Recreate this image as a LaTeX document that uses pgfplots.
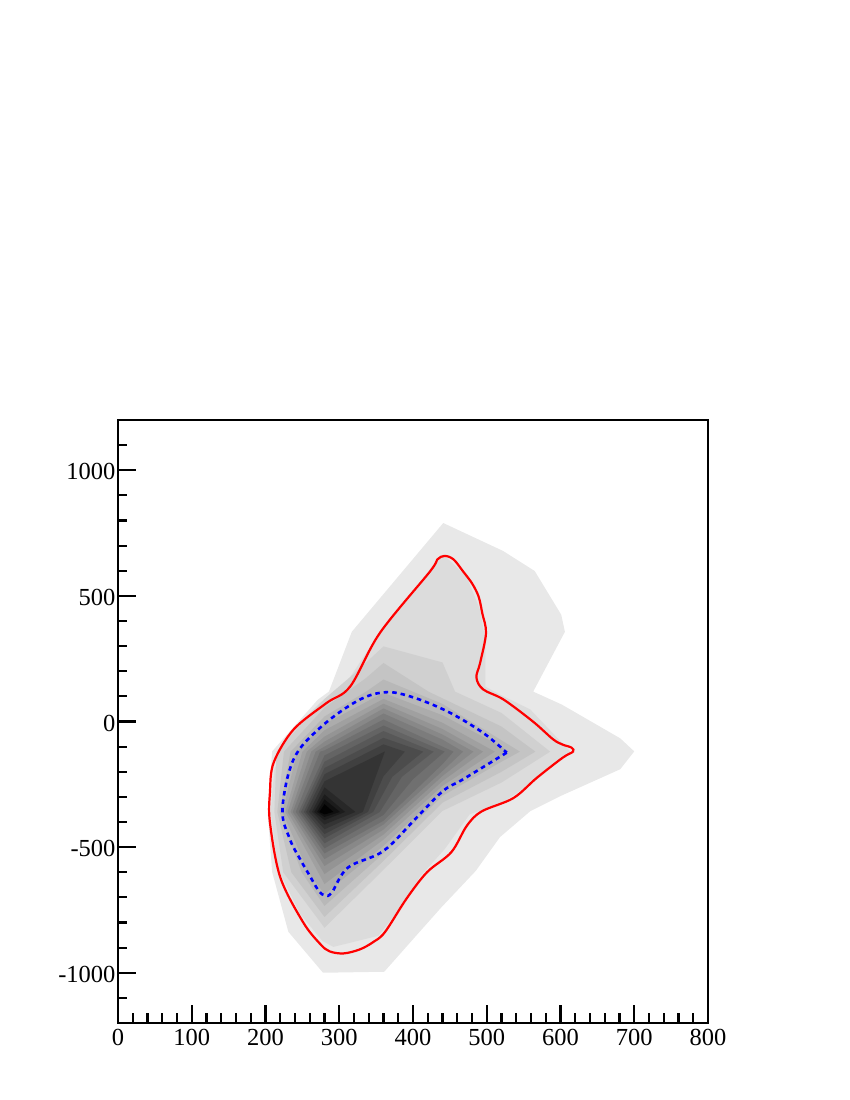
\documentclass[border=0pt]{standalone}
\usepackage{pgfplots}
\pgfplotsset{compat=1.18}
\usepackage{fontspec}
\setmainfont{Liberation Serif}

% grey contour bands, outermost first
\definecolor{g0}{RGB}{232,232,232}
\definecolor{g1}{RGB}{220,220,220}
\definecolor{g2}{RGB}{208,208,208}
\definecolor{g3}{RGB}{196,196,196}
\definecolor{g4}{RGB}{184,184,184}
\definecolor{g5}{RGB}{172,172,172}
\definecolor{g6}{RGB}{160,160,160}
\definecolor{g7}{RGB}{148,148,148}
\definecolor{g8}{RGB}{136,136,136}
\definecolor{g9}{RGB}{124,124,124}
\definecolor{g10}{RGB}{112,112,112}
\definecolor{g11}{RGB}{100,100,100}
\definecolor{g12}{RGB}{88,88,88}
\definecolor{g13}{RGB}{76,76,76}
\definecolor{g14}{RGB}{64,64,64}
\definecolor{g15}{RGB}{52,52,52}
\definecolor{g16}{RGB}{40,40,40}
\definecolor{g17}{RGB}{28,28,28}
\definecolor{g18}{RGB}{16,16,16}
\definecolor{g19}{RGB}{2,2,2}

\begin{document}
\begin{tikzpicture}
\useasboundingbox (-118pt,-77pt) rectangle (732pt,1023pt);
\begin{axis}[
    scale only axis,
    width=590pt,
    height=603pt,
    xmin=0, xmax=800,
    ymin=-1200, ymax=1200,
    xtick={0,100,...,800},
    ytick={-1000,-500,0,500,1000},
    minor xtick={0,20,...,800},
    minor ytick={-1100,-1000,...,1100},
    tick pos=left,
    tick align=inside,
    major tick length=18pt,
    minor tick length=9.5pt,
    axis line style={line width=2.4pt},
    every tick/.style={black,line width=2.2pt},
    every minor tick/.style={black,line width=2.2pt},
    tick label style={font=\fontsize{24.5}{28}\selectfont},
    /pgf/number format/assume math mode=true,
    /pgf/number format/1000 sep={},
    xticklabel style={yshift=-3pt},
    yticklabel style={yshift=-1.5pt,xshift=1pt},
    axis on top,
]
\addplot[fill=g0,draw=none] coordinates {
 (441,790) (522,679) (565,599) (601,425) (606,357) (563,119) (602,67) (681,-67)
 (700,-119) (681,-190) (599,-298) (559,-357) (518,-460) (485,-595) (439,-738)
 (409,-837) (361,-996) (278,-1000) (231,-837) (209,-599) (203,-361) (209,-119)
 (271,87) (286,119) (317,357)} -- cycle;
\addplot[fill=g1,draw=none] coordinates {
 (441,665) (473,575) (491,444) (498,325) (498,139) (518,107) (559,48) (613,-119)
 (565,-238) (518,-329) (477,-369) (443,-508) (409,-619) (382,-746) (353,-853)
 (292,-897) (277,-873) (247,-766) (217,-587) (207,-361) (212,-190) (233,-44)
 (274,75) (308,147) (353,345)} -- cycle;
\addplot[fill=g2,draw=none] coordinates {
 (360,299) (440,235) (457,119) (520,34) (586,-120) (520,-243) (440,-356) (360,-590)
 (280,-821) (224,-600) (212,-360) (215,-120) (280,90) (320,190)} -- cycle;
\addplot[fill=g3,draw=none] coordinates {
 (360,233) (421,119) (520,-20) (566,-120) (520,-200) (440,-323) (360,-555)
 (280,-778) (235,-600) (216,-360) (225,-120) (280,55) (335,170)} -- cycle;
\addplot[fill=g4,draw=none] coordinates {
 (360,167) (440,70) (520,-75) (545,-120) (520,-160) (440,-296) (360,-525)
 (280,-734) (249,-600) (219,-360) (234,-120) (280,20) (337,120)} -- cycle;
\addplot[fill=g5,draw=none] coordinates {
 (360,114) (440,25) (520,-100) (529,-120) (440,-276) (360,-495)
 (280,-687) (258,-600) (223,-360) (243,-120) (280,-10)} -- cycle;
\addplot[fill=g6,draw=none] coordinates {
 (360,90) (440,-5) (511,-120) (440,-256) (360,-470)
 (280,-647) (227,-360) (250,-120) (280,-35)} -- cycle;
\addplot[fill=g7,draw=none] coordinates {
 (360,71) (440,-30) (495,-120) (440,-237) (360,-450)
 (280,-607) (230,-360) (256,-120) (280,-60)} -- cycle;
\addplot[fill=g8,draw=none] coordinates {
 (360,52) (440,-52) (482,-120) (440,-217) (360,-430)
 (280,-575) (234,-360) (262,-120) (280,-80)} -- cycle;
\addplot[fill=g9,draw=none] coordinates {
 (360,32) (440,-72) (468,-120) (440,-197) (360,-410)
 (280,-548) (237,-360) (268,-120) (280,-100)} -- cycle;
\addplot[fill=g10,draw=none] coordinates {
 (360,8) (440,-100) (455,-120) (440,-170) (360,-395)
 (280,-525) (241,-360) (274,-120) (280,-115)} -- cycle;
\addplot[fill=g11,draw=none] coordinates {
 (360,-16) (443,-120) (400,-230) (360,-372)
 (280,-505) (245,-360) (280,-135)} -- cycle;
\addplot[fill=g12,draw=none] coordinates {
 (360,-38) (428,-120) (385,-220) (355,-360)
 (280,-485) (248,-360) (280,-160)} -- cycle;
\addplot[fill=g13,draw=none] coordinates {
 (360,-65) (414,-120) (372,-220) (346,-360)
 (280,-465) (252,-360) (280,-185)} -- cycle;
\addplot[fill=g14,draw=none] coordinates {
 (360,-91) (389,-120) (360,-218) (339,-360)
 (280,-448) (255,-360) (280,-210)} -- cycle;
\addplot[fill=g15,draw=none] coordinates {
 (362,-119) (332,-360) (280,-429) (259,-360) (280,-238)} -- cycle;
\addplot[fill=g16,draw=none] coordinates {
 (322,-360) (280,-410) (263,-360) (280,-262)} -- cycle;
\addplot[fill=g17,draw=none] coordinates {
 (308,-360) (280,-393) (266,-360) (280,-290)} -- cycle;
\addplot[fill=g18,draw=none] coordinates {
 (301,-360) (280,-380) (270,-360) (280,-310)} -- cycle;
\addplot[fill=g19,draw=none] coordinates {
 (292,-360) (280,-370) (273,-360) (280,-329)} -- cycle;

% red contour
\addplot[red,line width=2.2pt,smooth cycle,tension=0.55] coordinates {
 (443,659) (455,645) (468,597) (480,550) (489,497) (494,430) (499,352)
 (491,233) (486,175) (495,128) (523,87) (563,-1) (590,-71)
 (603,-92) (615,-104) (617,-120) (603,-144) (568,-224)
 (536,-305) (493,-358) (473,-415) (452,-520) (419,-600) (391,-706) (362,-838)
 (346,-878) (328,-907) (306,-923) (287,-915) (274,-885) (251,-799)
 (220,-620) (206,-402) (206,-283) (211,-164) (238,-32)
 (283,74) (315,140) (355,352)
 (423,597) (433,645)};
% blue contour, starts and ends on its sharp corner
\addplot[blue,line width=2.6pt,dash pattern=on 4.5pt off 4pt,smooth,tension=0.6] coordinates {
 (527,-124) (468,-230) (441,-276) (405,-382) (360,-515)
 (312,-581) (290,-680) (281,-693) (272,-673) (260,-614) (247,-548)
 (233,-468) (223,-350) (238,-151)
 (274,-25) (324,81) (361,116) (396,100) (446,41) (495,-45) (527,-124)};
\end{axis}
\end{tikzpicture}
\end{document}
